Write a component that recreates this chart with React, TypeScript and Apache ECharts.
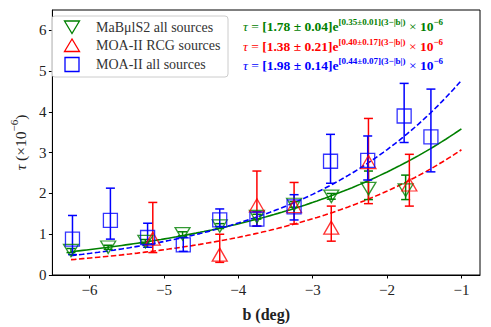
import React, { useEffect, useRef } from "react";
import * as echarts from "echarts";

// ---- data ----
const greenB = [-6.25, -5.75, -5.25, -4.75, -4.25, -3.75, -3.25, -2.75, -2.25, -1.75];
const greenTau = [0.6, 0.68, 0.82, 1.01, 1.2, 1.43, 1.73, 1.93, 2.12, 2.08];
const greenLo = [0.55, 0.63, 0.77, 0.96, 1.14, 1.37, 1.66, 1.86, 1.85, 1.85];
const greenHi = [0.65, 0.73, 0.87, 1.06, 1.26, 1.49, 1.8, 2.0, 2.55, 2.45];

const redB = [-5.15, -4.25, -3.75, -3.25, -2.75, -2.25, -1.7];
const redTau = [0.89, 0.5, 1.71, 1.69, 1.16, 2.77, 2.22];
const redLo = [0.55, 0.31, 1.2, 1.25, 0.83, 1.75, 1.69];
const redHi = [1.78, 1.0, 2.55, 2.27, 1.69, 3.84, 2.96];

const blueB = [-6.23, -5.72, -5.22, -4.74, -4.25, -3.75, -3.25, -2.76, -2.26, -1.77, -1.41];
const blueTau = [0.88, 1.34, 0.92, 0.74, 1.35, 1.37, 1.67, 2.79, 2.81, 3.9, 3.39];
const blueLo = [0.5, 0.88, 0.68, 0.58, 1.19, 1.2, 1.35, 2.25, 2.33, 3.25, 2.53];
const blueHi = [1.46, 2.13, 1.27, 0.92, 1.62, 1.55, 1.97, 3.45, 3.41, 4.7, 4.56];

// fit parameters tau = A e^{B(3-|b|)} x 1e-6 (green, red, blue)
const fitA = [1.78, 1.38, 1.98];
const fitAerr = [0.04, 0.21, 0.14];
const fitB = [0.35, 0.4, 0.44];
const fitBerr = [0.01, 0.17, 0.07];
const fitRange = [-6.25, -1];

const xTicks = [-6, -5, -4, -3, -2, -1];
const yTicks = [0, 1, 2, 3, 4, 5, 6];
const legendLabels = ["MaB\u03bclS2 all sources", "MOA-II RCG sources", "MOA-II all sources"];

const GREEN = "#008000";
const RED = "#ff0000";
const BLUE = "#0000ff";
const COLORS = [GREEN, RED, BLUE];
const FAM = "Liberation Serif, Times New Roman, serif";

function fitCurve(i: number) {
  const pts: number[][] = [];
  const n = 100;
  for (let k = 0; k <= n; k++) {
    const b = fitRange[0] + ((fitRange[1] - fitRange[0]) * k) / n;
    pts.push([b, fitA[i] * Math.exp(fitB[i] * (3 - Math.abs(b)))]);
  }
  return pts;
}

function errSeries(bs: number[], lo: number[], hi: number[], color: string) {
  return {
    type: "custom",
    renderItem: (params: any, api: any) => {
      const x = api.value(0);
      const p1 = api.coord([x, api.value(1)]);
      const p2 = api.coord([x, api.value(2)]);
      const cw = 4.5;
      const st = { stroke: color, lineWidth: 1.5 };
      return {
        type: "group",
        children: [
          { type: "line", shape: { x1: p1[0], y1: p1[1], x2: p2[0], y2: p2[1] }, style: st },
          { type: "line", shape: { x1: p1[0] - cw, y1: p1[1], x2: p1[0] + cw, y2: p1[1] }, style: st },
          { type: "line", shape: { x1: p2[0] - cw, y1: p2[1], x2: p2[0] + cw, y2: p2[1] }, style: st },
        ],
      };
    },
    encode: { x: 0, y: [1, 2] },
    data: bs.map((b, i) => [b, lo[i], hi[i]]),
    z: 3,
    silent: true,
  };
}

function formulaText(i: number) {
  return (
    `{t|\u03c4}{n| = }{b|[${fitA[i].toFixed(2)} \u00b1 ${fitAerr[i].toFixed(2)}]e}` +
    `{s|[${fitB[i].toFixed(2)}\u00b1${fitBerr[i].toFixed(2)}](3\u2212|b|)}` +
    `{n| \u00d7 }{b|10}{s|\u22126}`
  );
}

function richFor(i: number) {
  const col = COLORS[i];
  return {
    t: { fontFamily: FAM, fontSize: 13.5, fontStyle: "italic", fill: col, lineHeight: 16, verticalAlign: "bottom" },
    n: { fontFamily: FAM, fontSize: 13.5, fill: col, lineHeight: 16, verticalAlign: "bottom" },
    b: { fontFamily: FAM, fontSize: 13.5, fontWeight: "bold", fill: col, lineHeight: 16, verticalAlign: "bottom" },
    s: { fontFamily: FAM, fontSize: 9, fontWeight: "bold", fill: col, lineHeight: 10, verticalAlign: "top" },
  };
}

export default function App() {
  const ref = useRef<HTMLDivElement>(null);
  useEffect(() => {
    if (!ref.current) return;
    const chart = echarts.init(ref.current, null, { renderer: "svg" });

    const legendRows = [27, 45.5, 64.5];
    const mx = 72;
    const graphics: any[] = [
      {
        type: "rect",
        shape: { x: 52, y: 16, width: 176, height: 61, r: 3 },
        style: { fill: "rgba(255,255,255,0.85)", stroke: "#cccccc", lineWidth: 1 },
        z: 100,
      },
      {
        type: "polygon",
        shape: { points: [[mx - 7.5, legendRows[0] - 6], [mx + 7.5, legendRows[0] - 6], [mx, legendRows[0] + 6.5]] },
        style: { fill: "none", stroke: GREEN, lineWidth: 1.3 },
        z: 101,
      },
      {
        type: "polygon",
        shape: { points: [[mx, legendRows[1] - 6.5], [mx - 7.5, legendRows[1] + 6], [mx + 7.5, legendRows[1] + 6]] },
        style: { fill: "none", stroke: RED, lineWidth: 1.3 },
        z: 101,
      },
      {
        type: "rect",
        shape: { x: mx - 7, y: legendRows[2] - 7, width: 14, height: 14 },
        style: { fill: "none", stroke: BLUE, lineWidth: 1.3 },
        z: 101,
      },
    ];
    legendLabels.forEach((t, i) => {
      graphics.push({
        type: "text",
        x: 96,
        y: legendRows[i],
        style: { text: t, fontFamily: FAM, fontSize: 14, fill: "#333", verticalAlign: "middle" },
        z: 101,
      });
    });
    const fy = [25.5, 45, 64.5];
    [0, 1, 2].forEach((i) => {
      graphics.push({
        type: "text",
        x: 243,
        y: fy[i],
        style: { text: formulaText(i), rich: richFor(i), verticalAlign: "middle", fill: COLORS[i] },
        z: 101,
      });
    });

    const option: any = {
      animation: false,
      textStyle: { fontFamily: FAM },
      grid: { left: 45, right: 11, top: 10, bottom: 47, show: true, borderColor: "#000", borderWidth: 1, backgroundColor: "transparent" },
      xAxis: {
        type: "value",
        min: -6.5,
        max: -0.75,
        splitLine: { show: false },
        axisLine: { show: true, onZero: false, lineStyle: { color: "#000", width: 1 } },
        axisTick: { show: true, length: 3.5, customValues: xTicks, lineStyle: { color: "#000" } },
        axisLabel: {
          customValues: xTicks,
          formatter: (v: number) => (v < 0 ? "\u2212" + Math.abs(v) : String(v)),
          fontFamily: FAM,
          fontSize: 15,
          color: "#222",
          margin: 7,
        },
        name: "b (deg)",
        nameLocation: "middle",
        nameGap: 31,
        nameTextStyle: { fontFamily: FAM, fontSize: 16, fontWeight: "bold", color: "#222" },
      },
      yAxis: {
        type: "value",
        min: 0,
        max: 6.5,
        splitLine: { show: false },
        axisLine: { show: true, lineStyle: { color: "#000", width: 1 } },
        axisTick: { show: true, length: 3.5, customValues: yTicks, lineStyle: { color: "#000" } },
        axisLabel: { customValues: yTicks, fontFamily: FAM, fontSize: 15, color: "#222", margin: 6 },
        name: "{t|\u03c4}{n| (\u00d710}{s|\u22126}{n|)}",
        nameLocation: "middle",
        nameRotate: 90,
        nameGap: 24,
        nameTextStyle: {
          fontFamily: FAM,
          rich: {
            t: { fontFamily: FAM, fontSize: 15.5, fontStyle: "italic", color: "#222", lineHeight: 20, verticalAlign: "bottom" },
            n: { fontFamily: FAM, fontSize: 15.5, color: "#222", lineHeight: 20, verticalAlign: "bottom" },
            s: { fontFamily: FAM, fontSize: 11, color: "#222", lineHeight: 11, verticalAlign: "top" },
          },
        },
      },
      series: [
        { type: "line", data: fitCurve(0), showSymbol: false, lineStyle: { color: GREEN, width: 1.6 }, z: 2, silent: true },
        { type: "line", data: fitCurve(1), showSymbol: false, lineStyle: { color: RED, width: 1.6, type: [5.5, 2.5] }, z: 2, silent: true },
        { type: "line", data: fitCurve(2), showSymbol: false, lineStyle: { color: BLUE, width: 1.6, type: [5.5, 2.5] }, z: 2, silent: true },
        errSeries(greenB, greenLo, greenHi, GREEN),
        {
          type: "scatter",
          data: greenB.map((b, i) => [b, greenTau[i]]),
          symbol: "triangle",
          symbolRotate: 180,
          symbolSize: [15, 12.5],
          itemStyle: { color: "transparent", borderColor: GREEN, borderWidth: 1.3 },
          z: 4,
          silent: true,
        },
        errSeries(redB, redLo, redHi, RED),
        {
          type: "scatter",
          data: redB.map((b, i) => [b, redTau[i]]),
          symbol: "triangle",
          symbolSize: [15, 13],
          itemStyle: { color: "transparent", borderColor: RED, borderWidth: 1.3 },
          z: 4,
          silent: true,
        },
        errSeries(blueB, blueLo, blueHi, BLUE),
        {
          type: "scatter",
          data: blueB.map((b, i) => [b, blueTau[i]]),
          symbol: "rect",
          symbolSize: 14,
          itemStyle: { color: "transparent", borderColor: BLUE, borderWidth: 1.3 },
          z: 4,
          silent: true,
        },
      ],
      graphic: graphics,
    };
    chart.setOption(option);
    return () => chart.dispose();
  }, []);
  return <div ref={ref} style={{ width: 491, height: 327, position: "absolute", left: 0, top: 0 }} />;
}
